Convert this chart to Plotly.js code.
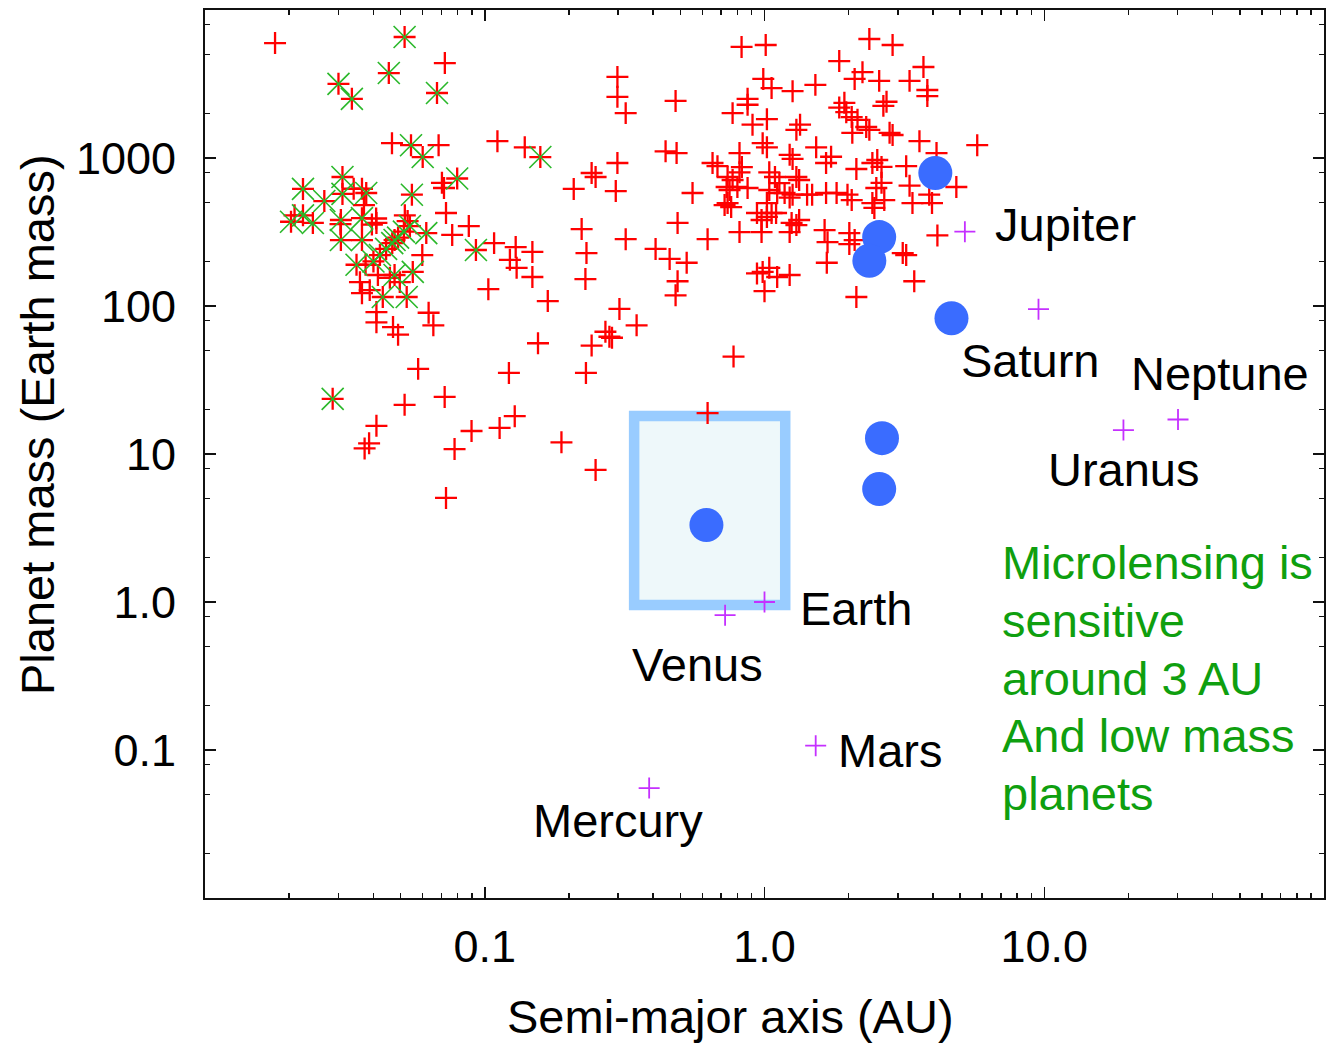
<!DOCTYPE html>
<html>
<head>
<meta charset="utf-8">
<script src="https://cdn.plot.ly/plotly-3.0.1.min.js"></script>
<style>html,body{margin:0;padding:0;background:#fff;}#chart{width:1326px;height:1043px;}</style>
</head>
<body>
<div id="chart"></div>
<script>
// Radial-velocity planets (red +): semi-major axis (AU), mass (Earth masses)
const rvAxis = [0.0178,0.072,0.0466,0.0684,0.111,0.139,0.0703,0.0715,0.0727,0.0877,0.0765,0.108,0.037,0.041,0.0598,0.0358,0.0364,0.0415,0.0458,0.0497,
  0.103,0.041,0.047,0.049,0.063,0.0655,0.0578,0.0517,0.0719,0.041,0.0372,0.0386,0.0897,0.078,0.0727,0.113,0.128,0.122,0.188,0.249,
  0.23,0.155,0.241,0.27,0.279,0.285,0.349,0.303,0.168,0.481,0.489,0.229,0.231,0.222,0.319,0.408,0.458,0.527,0.489,0.626,
  0.129,0.148,0.123,0.13,0.148,0.208,0.241,0.249,0.294,0.298,0.443,0.485,0.298,0.298,0.319,0.481,0.652,0.679,0.553,0.732,
  0.738,0.775,0.626,0.828,1.01,2.37,2.87,1.85,2.24,2.1,2.57,3.7,3.3,3.82,3.82,0.99,1.06,1.26,1.52,0.87,
  0.87,0.769,0.906,1.02,1.34,1.3,1.93,1.96,2.05,1.85,2.15,2.31,2.37,2.66,2.73,2.8,2.87,2.06,3.58,5.76,
  0.985,1.02,1.53,1.23,1.26,0.814,0.83,1.66,1.73,2.13,2.53,2.62,3.21,4.12,0.738,0.769,0.8,0.75,1.09,1.13,
  1.3,1.18,1.23,1.26,1.42,1.66,1.81,1.98,2.05,2.51,2.62,2.68,3.3,3.88,3.97,4.85,0.72,1.02,1.06,0.976,
  1.02,1.25,1.33,0.814,1.64,1.68,2.01,2.1,2.43,2.47,3.38,4.15,3.12,3.21,3.43,0.985,1.04,1.11,1.23,1.0,
  1.67,2.13,0.814,1.04,1.33,2.43,0.76,0.87,1.11,1.04,1.48,0.94,1.1,1.3,2.01,0.976,1.23,0.94,
  0.0364,0.034,0.0305,0.0209,0.0409,0.0395,0.0518,0.053,0.0375,0.0388,0.041];
const rvMass = [5980,4380,1260,1220,1300,1180,680,627,425,347,302,266,481,364,221,145,122,162,155,145,
  130,77.5,72,64,90,74,37.6,21.5,24.3,15.5,10.9,11.8,14.3,10.8,5.05,15,18,35.3,12,7.8,
  35.3,56,54,67,62,61,74,95.5,108,118,147,152,228,331,283,243,208,196,364,283,
  250,232,205,181,157,618,792,744,598,925,1110,1080,3530,2590,2010,2430,925,880,580,637,
  496,45.5,18.9,5630,5800,6370,5800,4520,3800,3420,3320,4120,3320,2880,2620,3420,2970,2830,3120,2510,
  2290,2010,1680,1830,1680,1550,2360,2040,1890,2190,1810,1620,1550,2250,2400,1480,1430,1480,1300,1220,
  1260,1180,1180,1050,985,1080,869,925,1020,843,969,870,880,1080,744,710,637,608,744,677,
  744,580,540,565,565,580,580,565,520,627,680,520,650,565,496,637,481,496,425,381,
  400,364,381,316,326,270,262,279,496,460,496,300,228,221,147,170,181,157,162,126,
  196,115,800,800,710,925,466,627,580,608,565,425,425,352,311,316,316,166,
  620,620,357,410,390,355,410,375,190,128,91];

// Transiting planets (green x over red +)
const trAxis = [0.0517,0.0454,0.03,0.0335,0.0675,0.0545,0.06,0.031,0.0797,0.0224,0.0549,0.0267,0.031,0.0377,0.0224,0.0203,0.0243,0.0306,0.0364,0.0618,
  0.0306,0.0364,0.093,0.0348,0.0476,0.0553,0.0432,0.0526,0.0286,0.158,0.04,0.0422,0.0444,0.0467,0.049,0.0514,0.054,0.0476];
const trMass = [6570,3750,3170,2510,2750,1220,1015,744,727,618,565,512,572,580,410,371,364,381,392,311,
  279,279,239,190,162,170,115,115,23.6,1015,200,221,243,266,290,318,347,279];

// Microlensing planets (blue discs)
const mlAxis = [4.08,2.57,2.37,4.66,2.63,2.57,0.62];
const mlMass = [792,292,202,82.6,12.8,5.8,3.31];

// Solar-system planets (magenta +)
const planetNames = ['Mercury','Venus','Earth','Mars','Jupiter','Saturn','Uranus','Neptune'];
const planetAxis = [0.387,0.723,1.0,1.524,5.203,9.537,19.19,30.07];
const planetMass = [0.0553,0.815,1.0,0.107,317.8,95.2,14.5,17.1];

// Microlensing sensitivity region
const boxAxis = [0.342,1.186];
const boxMass = [0.955,18.06];

// Ticks
const xTickVals = [0.1,1,10];
const xTickText = ['0.1','1.0','10.0'];
const yTickVals = [0.1,1,10,100,1000];
const yTickText = ['0.1','1.0','10','100','1000'];
const xMinor = [0.02,0.03,0.04,0.05,0.06,0.07,0.08,0.09,0.2,0.3,0.4,0.5,0.6,0.7,0.8,0.9,2,3,4,5,6,7,8,9,20,30,40,50,60,70,80,90];
const yMinor = [0.02,0.05,0.08,0.2,0.5,0.8,2,5,8,20,50,80,200,500,800,2000,5000,8000];

const noteLines = ['Microlensing is','sensitive','around 3 AU','And low mass','planets'];

const FONT = 'Liberation Sans, Arial, Helvetica, sans-serif';

const traces = [
  {x: rvAxis.concat(trAxis), y: rvMass.concat(trMass), type: 'scatter', mode: 'markers', hoverinfo: 'skip',
   marker: {symbol: 'cross-thin', size: 15.7, line: {color: '#ff0000', width: 2.3}}},
  {x: trAxis, y: trMass, type: 'scatter', mode: 'markers', hoverinfo: 'skip',
   marker: {symbol: 'x-thin', size: 22, line: {color: '#2ab82a', width: 1.6}}},
  {x: planetAxis, y: planetMass, type: 'scatter', mode: 'markers', hoverinfo: 'skip',
   marker: {symbol: 'cross-thin', size: 15, line: {color: '#c530ff', width: 1.8}}},
  {x: mlAxis, y: mlMass, type: 'scatter', mode: 'markers', hoverinfo: 'skip',
   marker: {symbol: 'circle', size: 34, color: '#3a6cff', line: {width: 0}}}
];

function lbl(text, xl, yl, color) {
  return {x: xl, y: yl, xref: 'x', yref: 'y', text: text, showarrow: false,
          xanchor: 'left', yanchor: 'middle', font: {family: FONT, size: 47, color: color || '#000'}};
}

const annotations = [
  lbl(planetNames[4], 0.815, 2.554),
  lbl(planetNames[5], 0.697, 1.635),
  lbl(planetNames[7], 1.304, 1.541),
  lbl(planetNames[6], 1.005, 0.892),
  lbl(planetNames[2], 0.118, -0.041),
  lbl(planetNames[1], -0.482, -0.419),
  lbl(planetNames[3], 0.257, -1.0),
  lbl(planetNames[0], -0.835, -1.473),
  lbl(noteLines[0], 0.843, 0.270, '#0f9f0f'),
  lbl(noteLines[1], 0.843, -0.122, '#0f9f0f'),
  lbl(noteLines[2], 0.843, -0.514, '#0f9f0f'),
  lbl(noteLines[3], 0.843, -0.899, '#0f9f0f'),
  lbl(noteLines[4], 0.843, -1.291, '#0f9f0f'),
  {x: -0.1492, y: 0.5327, xref: 'paper', yref: 'paper', text: 'Planet mass (Earth mass)', textangle: -90,
   showarrow: false, xanchor: 'center', yanchor: 'middle', font: {family: FONT, size: 47, color: '#000'}},
  {x: 0.4692, y: -0.134, xref: 'paper', yref: 'paper', text: 'Semi-major axis (AU)',
   showarrow: false, xanchor: 'center', yanchor: 'middle', font: {family: FONT, size: 47, color: '#000'}}
];

const axisCommon = {
  type: 'log', showgrid: false, zeroline: false, showline: true, mirror: 'allticks',
  linecolor: '#111', linewidth: 2, ticks: 'inside', ticklen: 11, tickwidth: 1.5, tickcolor: '#111',
  tickmode: 'array', tickfont: {family: FONT, size: 45, color: '#000'}
};

const layout = {
  width: 1326, height: 1043,
  margin: {l: 205, r: 2, t: 10, b: 145, pad: 0},
  paper_bgcolor: '#ffffff', plot_bgcolor: '#ffffff',
  showlegend: false,
  xaxis: Object.assign({}, axisCommon, {range: [-2, 2], tickvals: xTickVals, ticktext: xTickText, ticklabelstandoff: 8,
    minor: {tickvals: xMinor, ticks: 'inside', ticklen: 5, tickwidth: 1.5, tickcolor: '#111', showgrid: false}}),
  yaxis: Object.assign({}, axisCommon, {range: [-2, 4], tickvals: yTickVals, ticktext: yTickText, ticklabelstandoff: 18,
    minor: {tickvals: yMinor, ticks: 'inside', ticklen: 5, tickwidth: 1.5, tickcolor: '#111', showgrid: false}}),
  shapes: [
    {type: 'rect', xref: 'x', yref: 'y', x0: boxAxis[0], x1: boxAxis[1], y0: boxMass[0], y1: boxMass[1],
     layer: 'below', fillcolor: '#eef8fa', line: {color: '#99ccff', width: 10.5}}
  ],
  annotations: annotations
};

Plotly.newPlot('chart', traces, layout, {staticPlot: true, displayModeBar: false});
</script>
</body>
</html>
